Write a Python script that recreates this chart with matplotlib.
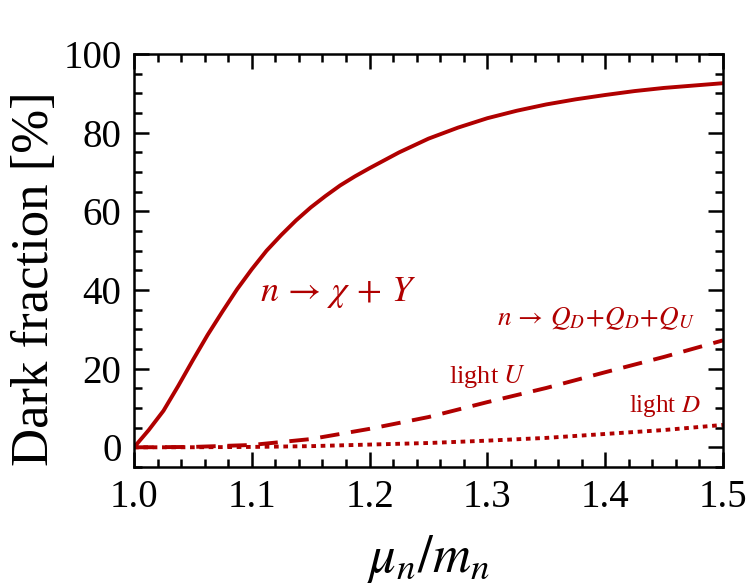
import matplotlib
matplotlib.use("Agg")
import matplotlib.pyplot as plt
from matplotlib.ticker import MultipleLocator, FormatStrFormatter

plt.rcParams["font.family"] = ["Liberation Serif", "DejaVu Serif"]
plt.rcParams["mathtext.fontset"] = "stix"

RED = "#b00000"

# values
mu = [1.0, 1.0125, 1.025, 1.0375, 1.05, 1.0625, 1.075, 1.0875, 1.1, 1.1125,
      1.125, 1.1375, 1.15, 1.1625, 1.175, 1.1875, 1.2, 1.225, 1.25, 1.275,
      1.3, 1.325, 1.35, 1.375, 1.4, 1.425, 1.45, 1.475, 1.5]
chi_y = [0.0, 4.4, 9.3, 15.6, 22.2, 28.6, 34.5, 40.2, 45.3, 50.0,
         54.0, 57.7, 61.0, 63.9, 66.6, 68.9, 71.0, 75.0, 78.5, 81.3,
         83.7, 85.6, 87.2, 88.5, 89.6, 90.6, 91.4, 92.0, 92.6]

mu_q = [1.0, 1.05, 1.1, 1.15, 1.2, 1.25, 1.3, 1.35, 1.4, 1.45, 1.5]
light_u = [0.0, 0.1, 0.6, 2.1, 4.7, 7.7, 11.5, 15.1, 19.1, 23.0, 27.2]
light_d = [0.0, 0.02, 0.1, 0.3, 0.7, 1.1, 1.7, 2.4, 3.4, 4.4, 5.7]

fig = plt.figure(figsize=(7.5, 5.88), dpi=100)
ax = fig.add_axes([0.1787, 0.2058, 0.7853, 0.7022])

ax.plot(mu, chi_y, color=RED, lw=2.8)
ax.plot(mu_q, light_u, color=RED, lw=2.8, dashes=(5, 3))
ax.plot(mu_q, light_d, color=RED, lw=2.8, dashes=(1.2, 1.2))

ax.set_xlim(1.0, 1.5)
ax.set_ylim(-5, 100)
ax.xaxis.set_major_locator(MultipleLocator(0.1))
ax.xaxis.set_minor_locator(MultipleLocator(0.02))
ax.yaxis.set_major_locator(MultipleLocator(20))
ax.yaxis.set_minor_locator(MultipleLocator(5))
ax.xaxis.set_major_formatter(FormatStrFormatter("%.1f"))

ax.tick_params(which="both", direction="in", top=True, right=True, width=1.8,
               labelsize=28, pad=9)
ax.tick_params(which="major", length=11)
ax.tick_params(which="minor", length=5.5)
for s in ax.spines.values():
    s.set_linewidth(1.8)

ax.set_ylabel("Dark fraction [%]", fontsize=38)
ax.yaxis.set_label_coords(-0.128, 0.455)
ax.set_xlabel(r"$\mu_n/m_n$", fontsize=38, labelpad=12)

ax.text(1.173, 39.5, r"$n\,\rightarrow\,\chi\,+\,Y$", color=RED, fontsize=26,
        ha="center", va="center")
ax.text(1.392, 32.8, r"$n\,\rightarrow\,Q_D\!+\!Q_D\!+\!Q_U$", color=RED,
        fontsize=19.5, ha="center", va="center")
ax.text(1.30, 18.0, r"light $U$", color=RED, fontsize=19,
        ha="center", va="center")
ax.text(1.451, 10.6, r"light $D$", color=RED, fontsize=18,
        ha="center", va="center")

fig.savefig("out.png", dpi=100)
